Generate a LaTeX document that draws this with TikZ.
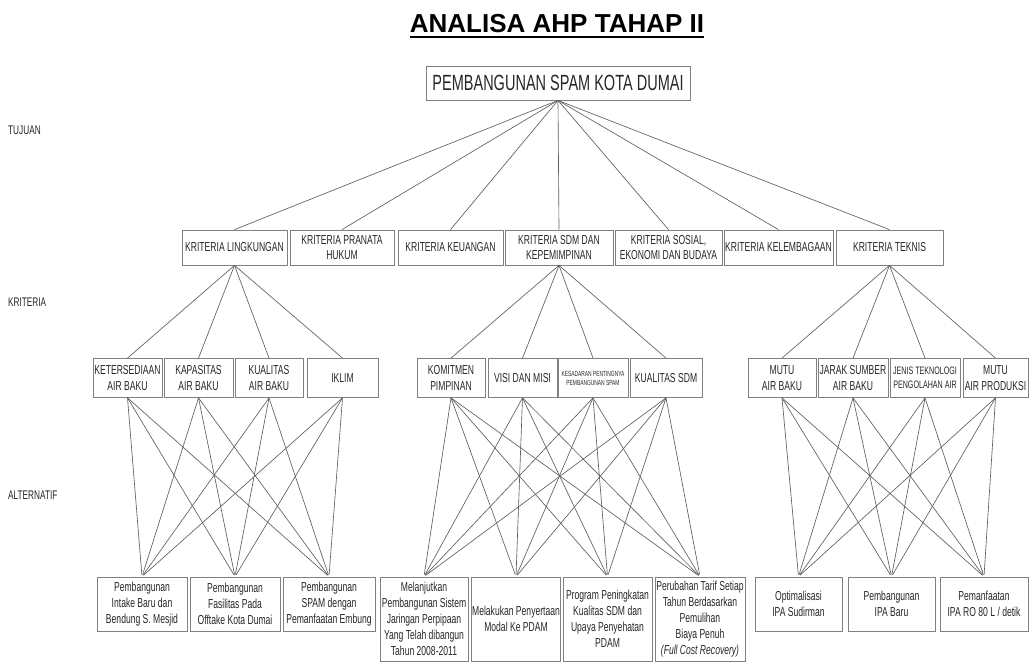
\documentclass[tikz,border=0pt]{standalone}
\usepackage{fontspec}
\setmainfont{Liberation Sans}[FakeStretch=0.66]
\newfontfamily\headfont{Liberation Sans}
\definecolor{ink}{HTML}{262626}
\definecolor{boxline}{HTML}{808080}
\definecolor{edge}{HTML}{5E5E5E}

\begin{document}
\begin{tikzpicture}[x=1pt, y=-1pt,
    every node/.style={text=ink},
    goalbox/.style={draw=boxline, line width=0.8pt, align=center, inner sep=1pt,
                    minimum width=264pt, minimum height=34pt,
                    font=\fontsize{22}{24}\selectfont},
    critbox/.style={draw=boxline, line width=0.8pt, align=center, inner sep=1pt,
                    minimum height=35pt, font=\fontsize{13}{15}\selectfont},
    subbox/.style={draw=boxline, line width=0.8pt, align=center, inner sep=1pt,
                   minimum height=39pt, font=\fontsize{13}{15.5}\selectfont},
    altbox/.style={draw=boxline, line width=0.8pt, align=center, inner sep=1pt,
                   font=\fontsize{13}{16}\selectfont},
    sidelabel/.style={anchor=west, inner sep=0pt, font=\fontsize{12.5}{14}\selectfont},
    link/.style={draw=edge, line width=0.65pt},
  ]
  \useasboundingbox (0,0) rectangle (1033,664);

  % title
  \node[anchor=base, inner sep=0pt, text=black,
        font=\headfont\bfseries\fontsize{26}{30}\selectfont] (title) at (557,32) {ANALISA AHP TAHAP II};
  \draw[line width=2pt] ([yshift=-5pt]title.base west) -- ([yshift=-5pt]title.base east);

  % level labels
  \node[sidelabel] (lbltujuan) at (8,130) {TUJUAN};
  \node[sidelabel] (lblkriteria) at (8,302) {KRITERIA};
  \node[sidelabel] (lblalternatif) at (8,495) {ALTERNATIF};

  % the goal
  \node[goalbox] (goal) at (558,83) {PEMBANGUNAN SPAM KOTA DUMAI};

  % criteria
  \node[critbox, minimum width=105pt] (crl) at (234.5,247.5) {KRITERIA LINGKUNGAN};
  \node[critbox, minimum width=104pt] (crp) at (342,247.5) {KRITERIA PRANATA\\HUKUM};
  \node[critbox, minimum width=105pt] (crk) at (450.5,247.5) {KRITERIA KEUANGAN};
  \node[critbox, minimum width=108pt] (crs) at (559,247.5) {KRITERIA SDM DAN\\KEPEMIMPINAN};
  \node[critbox, minimum width=107pt] (cso) at (668.5,247.5) {KRITERIA SOSIAL,\\EKONOMI DAN BUDAYA};
  \node[critbox, minimum width=109pt] (ckl) at (778.5,247.5) {KRITERIA KELEMBAGAAN};
  \node[critbox, minimum width=107pt] (ctk) at (889.5,247.5) {KRITERIA TEKNIS};

  % sub-criteria
  \node[subbox, minimum width=69pt] (s11) at (127.5,378) {KETERSEDIAAN\\AIR BAKU};
  \node[subbox, minimum width=69pt] (s12) at (198.5,378) {KAPASITAS\\AIR BAKU};
  \node[subbox, minimum width=68pt] (s13) at (269,378) {KUALITAS\\AIR BAKU};
  \node[subbox, minimum width=71pt] (s14) at (342.5,378) {IKLIM};

  \node[subbox, minimum width=68pt] (s21) at (451,378) {KOMITMEN\\PIMPINAN};
  \node[subbox, minimum width=69pt] (s22) at (522.5,378) {VISI DAN MISI};
  \node[subbox, minimum width=70pt, font=\fontsize{7.4}{9}\selectfont] (s23) at (593,378)
        {KESADARAN PENTINGNYA\\PEMBANGUNAN SPAM};
  \node[subbox, minimum width=72pt] (s24) at (666,378) {KUALITAS SDM};

  \node[subbox, minimum width=68pt] (s31) at (782,378) {MUTU\\AIR BAKU};
  \node[subbox, minimum width=70pt] (s32) at (853,378) {JARAK SUMBER\\AIR BAKU};
  \node[subbox, minimum width=70pt, font=\fontsize{10.8}{13.5}\selectfont] (s33) at (925,378)
        {JENIS TEKNOLOGI\\PENGOLAHAN AIR};
  \node[subbox, minimum width=65pt] (s34) at (995.5,378) {MUTU\\AIR PRODUKSI};

  % alternatives
  \node[altbox, minimum width=90pt, minimum height=54pt] (a1) at (142,604)
        {Pembangunan\\Intake Baru dan\\Bendung S. Mesjid};
  \node[altbox, minimum width=90pt, minimum height=54pt] (a2) at (235,604)
        {Pembangunan\\Fasilitas Pada\\Offtake Kota Dumai};
  \node[altbox, minimum width=92pt, minimum height=54pt] (a3) at (329,604)
        {Pembangunan\\SPAM dengan\\Pemanfaatan Embung};

  \node[altbox, minimum width=88pt, minimum height=84pt] (b1) at (424,619)
        {Melanjutkan\\Pembangunan Sistem\\Jaringan Perpipaan\\Yang Telah dibangun\\Tahun 2008-2011};
  \node[altbox, minimum width=88pt, minimum height=84pt] (b2) at (516,619)
        {Melakukan Penyertaan\\Modal Ke PDAM};
  \node[altbox, minimum width=89pt, minimum height=84pt] (b3) at (607.5,619)
        {Program Peningkatan\\Kualitas SDM dan\\Upaya Penyehatan\\PDAM};
  \node[altbox, minimum width=90pt, minimum height=84pt] (b4) at (700,619)
        {Perubahan Tarif Setiap\\Tahun Berdasarkan\\Pemulihan\\Biaya Penuh\\\textit{(Full Cost Recovery)}};

  \node[altbox, minimum width=87pt, minimum height=54pt] (c1) at (798.5,604)
        {Optimalisasi\\IPA Sudirman};
  \node[altbox, minimum width=87pt, minimum height=54pt] (c2) at (891.5,604)
        {Pembangunan\\IPA Baru};
  \node[altbox, minimum width=88pt, minimum height=54pt] (c3) at (984,604)
        {Pemanfaatan\\IPA RO 80 L / detik};

  % goal to criteria
  \foreach \c in {crl,crp,crk,crs,cso,ckl,ctk}
    \draw[link] (goal.south) -- (\c.north);

  % criteria to sub-criteria
  \foreach \s in {s11,s12,s13,s14}
    \draw[link] (crl.south) -- (\s.north);
  \foreach \s in {s21,s22,s23,s24}
    \draw[link] (crs.south) -- (\s.north);
  \foreach \s in {s31,s32,s33,s34}
    \draw[link] (ctk.south) -- (\s.north);

  % sub-criteria to alternatives
  \foreach \s in {s11,s12,s13,s14}
    \foreach \a in {a1,a2,a3}
      \draw[link, shorten >=2pt] (\s.south) -- (\a.north);
  \foreach \s in {s21,s22,s23,s24}
    \foreach \a in {b1,b2,b3,b4}
      \draw[link, shorten >=2pt] (\s.south) -- (\a.north);
  \foreach \s in {s31,s32,s33,s34}
    \foreach \a in {c1,c2,c3}
      \draw[link, shorten >=2pt] (\s.south) -- (\a.north);
\end{tikzpicture}
\end{document}
